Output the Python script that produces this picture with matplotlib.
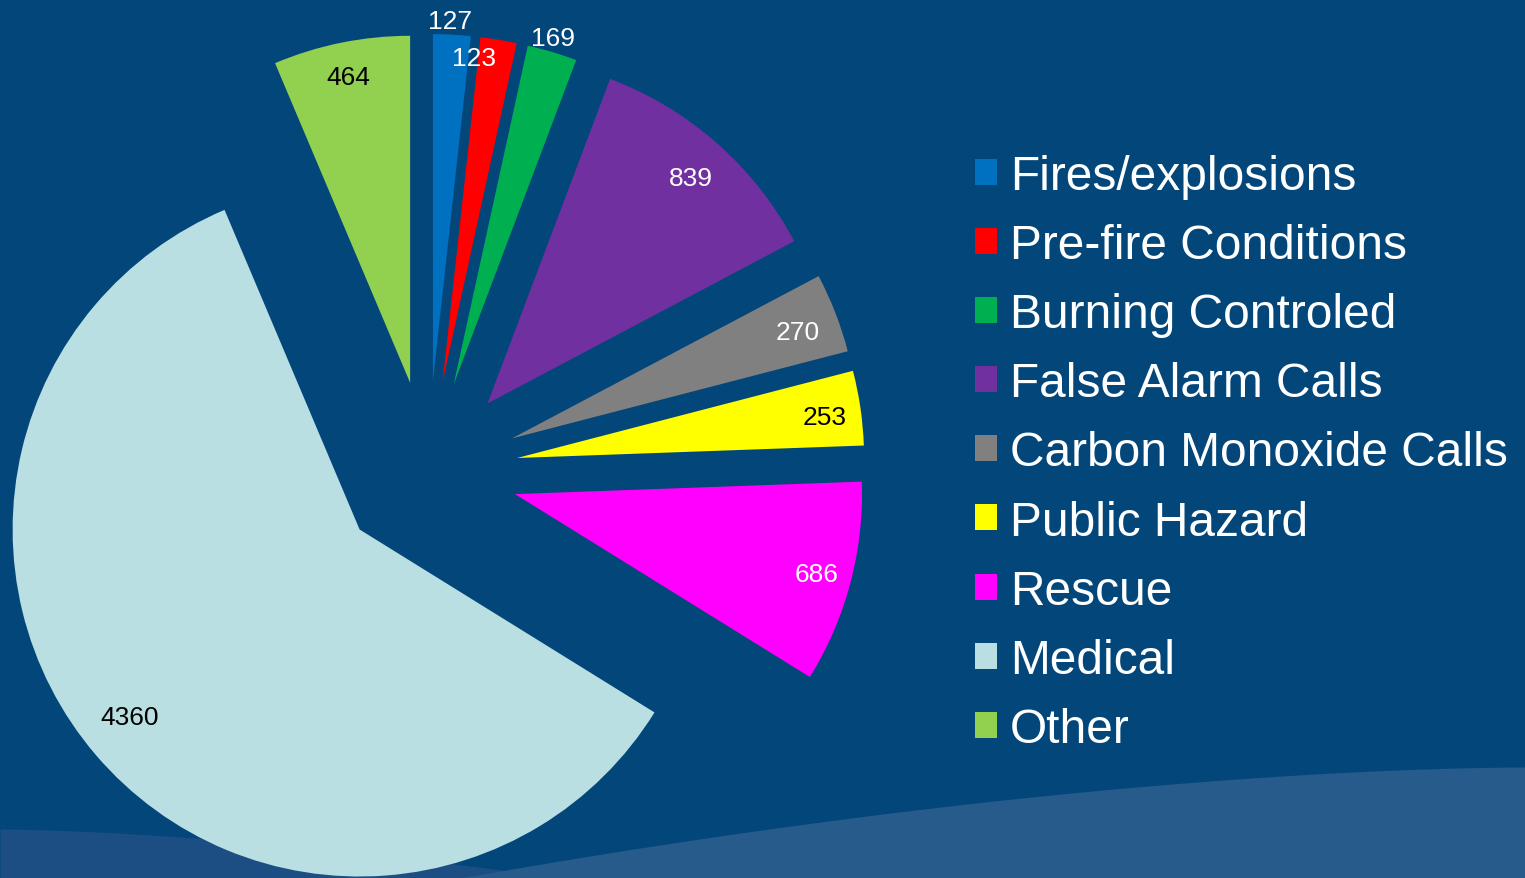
import matplotlib.pyplot as plt
import numpy as np

plt.rcParams['font.family'] = ['Liberation Sans', 'DejaVu Sans']

categories = ["Fires/explosions", "Pre-fire Conditions", "Burning Controled",
              "False Alarm Calls", "Carbon Monoxide Calls", "Public Hazard",
              "Rescue", "Medical", "Other"]
values = [127, 123, 169, 839, 270, 253, 686, 4360, 464]
colors = ["#0070C0", "#FF0000", "#00B050", "#7030A0", "#808080",
          "#FFFF00", "#FF00FF", "#B9DFE2", "#92D050"]
label_colors = ["white", "white", "white", "white", "white",
                "black", "white", "black", "black"]

BG = "#02467A"
W, H = 1525, 879

fig = plt.figure(figsize=(W / 100, H / 100), dpi=100)
fig.patch.set_facecolor(BG)

# background waves
bg = fig.add_axes([0, 0, 1, 1])
bg.set_xlim(0, W)
bg.set_ylim(H, 0)
bg.axis('off')
bg.set_facecolor(BG)
xs = np.linspace(0, 560, 50)
bg.fill_between(xs, 830 + (879 - 830) * (xs / 560) ** 1.6, H, color="#1D4E83", lw=0)
xr = np.linspace(460, W, 100)
top = 768 + 111 * ((W - xr) / (W - 460)) ** 1.7
bg.fill_between(xr, top, H, color="#265B8B", lw=0)

ax = fig.add_axes([0, 0, 1, 1])
ax.set_facecolor("none")
R = 347
center = (428, H - 472)
wedges, _ = ax.pie(values, colors=colors, startangle=90, counterclock=False,
                   radius=R, center=center, explode=[90] * len(values),
                   wedgeprops=dict(linewidth=0))
ax.set_xlim(0, W)
ax.set_ylim(0, H)
ax.set_aspect('auto')
ax.axis('off')

# value labels (distance from exploded apex, angle tweak in degrees)
dist = [1.04, 0.94, 1.04, 0.875, 0.88, 0.895, 0.90, 0.855, 0.90]
nudge = [0.4, 3.8, 0.5, -0.6, -0.8, -0.8, 0, -1.3, 0]
for w, v, d, n, c in zip(wedges, values, dist, nudge, label_colors):
    th = np.radians((w.theta1 + w.theta2) / 2 + n)
    cx, cy = w.center
    ax.text(cx + d * R * np.cos(th), cy + d * R * np.sin(th), str(v),
            ha='center', va='center', fontsize=19, color=c)

leg = ax.legend(wedges, categories, loc='upper left',
                bbox_to_anchor=(975 / W, 1 - 155 / H), frameon=False,
                fontsize=34.5, labelcolor='white', handlelength=0.46,
                handleheight=0.46, handletextpad=0.27, labelspacing=0.503,
                borderpad=0, borderaxespad=0)

fig.savefig("out.png", dpi=100, facecolor=BG)
